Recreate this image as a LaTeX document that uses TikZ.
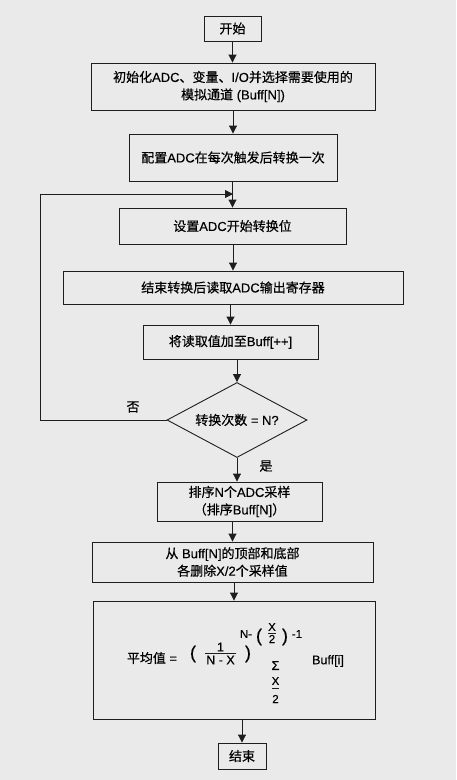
\documentclass[tikz,border=0pt]{standalone}
\usepackage{fontspec}
\setmainfont[FakeBold=0.3]{Liberation Sans}
\newfontfamily\zhfont[FakeBold=0.5]{Noto Sans CJK SC}
\newcommand\zh[1]{{\zhfont #1}}
\usetikzlibrary{shapes.geometric,arrows.meta}
\definecolor{bg}{HTML}{EAEAEA}
\definecolor{ln}{HTML}{1E1E1E}
\tikzset{
  box/.style={draw=ln, line width=0.9pt, fill=bg, inner sep=0pt, align=center,
    font=\fontsize{13}{17.5}\selectfont},
  deci/.style={shape=diamond, draw=ln, line width=0.9pt, fill=bg, inner sep=0pt,
    aspect=1.87, minimum width=140pt, minimum height=75pt, font=\fontsize{13}{16}\selectfont},
  arr/.style={draw=ln, line width=0.9pt, -{Triangle[length=8pt,width=8pt]}},
  lbl/.style={inner sep=0pt, font=\fontsize{13}{16}\selectfont},
  fml/.style={inner sep=0pt, font=\fontsize{12.5}{15}\selectfont},
  sml/.style={inner sep=0pt, font=\fontsize{11.5}{13}\selectfont},
  sigm/.style={inner sep=0pt, font=\fontsize{13}{15}\selectfont},
  bigp/.style={inner sep=0pt, font=\fontsize{18}{20}\selectfont},
  fline/.style={draw=ln, line width=0.8pt}
}
\begin{document}
\begin{tikzpicture}[x=1pt,y=-1pt]
\fill[bg] (0,0) rectangle (456,780);
\useasboundingbox (0,0) rectangle (456,780);

\node[box, minimum width=57pt, minimum height=25pt] (start) at (232.5,28.5) {\zh{开始}};
\node[box, minimum width=284pt, minimum height=47pt] (init) at (233,86.5)
  {\zh{初始化}ADC\zh{、变量、}I/O\zh{并选择需要使用的}\\\zh{模拟通道} (Buff[N])};
\node[box, minimum width=208pt, minimum height=47pt] (conf) at (233,157.5)
  {\zh{配置}ADC\zh{在每次触发后转换一次}};
\node[box, minimum width=227pt, minimum height=36pt] (setb) at (232.5,226)
  {\zh{设置}ADC\zh{开始转换位}};
\node[box, minimum width=340pt, minimum height=33pt] (readb) at (233,287.5)
  {\zh{结束转换后读取}ADC\zh{输出寄存器}};
\node[box, minimum width=175pt, minimum height=34pt] (addb) at (230.5,342)
  {\zh{将读取值加至}Buff[++]};
\node[deci] (dec) at (237,420) {\zh{转换次数} = N?};
\node[box, minimum width=165pt, minimum height=39pt] (sortb) at (239.5,501.5)
  {\zh{排序}N\zh{个}ADC\zh{采样}\\\zh{（排序}Buff[N]\zh{）}};
\node[box, minimum width=281pt, minimum height=40pt] (remb) at (232.5,562)
  {\zh{从} Buff[N]\zh{的顶部和底部}\\\zh{各删除}X/2\zh{个采样值}};
\node[box, minimum width=282pt, minimum height=118pt] (avgb) at (234,660) {};
\node[box, minimum width=48pt, minimum height=26pt] (endb) at (242,756) {\zh{结束}};

% labels
\node[lbl] (no) at (133,407) {\zh{否}};
\node[lbl] (yes) at (266,466) {\zh{是}};

% formula
\node[lbl] (avglab) at (152,658) {\zh{平均值} =};
\node[bigp] (lp) at (193,654) {(};
\node[fml] (one) at (220.5,647) {1};
\node[fml] (den) at (220.5,660) {N - X};
\draw[fline] ([xshift=-1pt,yshift=2.5pt]den.north west) -- ([xshift=1pt,yshift=2.5pt]den.north east);
\node[bigp] (rp) at (248,654) {)};
\node[sml] (sN) at (246,634) {N-};
\node[bigp] (slp) at (259,637) {(};
\node[sml] (sX) at (272,627) {X};
\node[sml] (s2) at (272,639) {2};
\draw[fline] ([xshift=-0.5pt]s2.north west |- 0,633) -- ([xshift=0.5pt]s2.north east |- 0,633);
\node[bigp] (srp) at (285,637) {)};
\node[sml] (sm1) at (297,634) {-1};
\node[sigm] (sig) at (275.5,665.5) {Σ};
\node[sml] (bX) at (275.5,681) {X};
\node[sml] (b2) at (275.5,699) {2};
\draw[fline] ([xshift=-0.5pt]b2.north west |- 0,688.5) -- ([xshift=0.5pt]b2.north east |- 0,688.5);
\node[fml] (buff) at (328,661) {Buff[i]};

% connectors
\draw[arr] (start.south) -- (start.south |- init.north);
\draw[arr] (init.south -| conf.north) -- (conf.north);
\draw[arr] (conf.south -| setb.north) -- (setb.north);
\draw[arr] (setb.south -| readb.north) -- (readb.north);
\draw[arr] (readb.south -| addb.north) -- (addb.north);
\draw[arr] (addb.south -| dec.north) -- (dec.north);
\draw[arr] (dec.south) -- (dec.south |- sortb.north);
\draw[arr] (sortb.south -| remb.north) -- (remb.north);
\draw[arr] (remb.south -| avgb.north) -- (avgb.north);
\draw[arr] (avgb.south -| endb.north) -- (endb.north);
\coordinate (lc) at (40,194);
\coordinate (lm) at (233,194);
\draw[arr] (dec.west) -| (lc) -- (lm);
\end{tikzpicture}
\end{document}
